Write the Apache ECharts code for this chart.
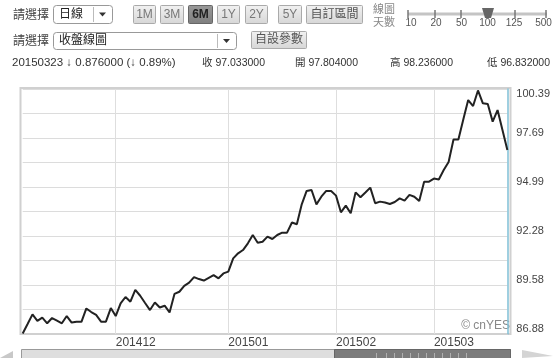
<!DOCTYPE html>
<html><head><meta charset="utf-8">
<script src="https://cdn.jsdelivr.net/npm/echarts@6/dist/echarts.min.js"></script>
<style>html,body{margin:0;padding:0;background:#fff}#c{width:553px;height:358px}</style>
</head><body><div id="c"></div>
<script>
// ---- data ----
const startDate = '2014-11-04';
const endDate = '2015-03-23';
const closeValues = [
  86.91, 87.43, 87.96, 87.60, 87.78, 87.47, 87.76, 87.62, 87.47, 87.87,
  87.51, 87.56, 87.55, 88.29, 88.09, 87.93, 87.56, 87.56, 88.31, 87.87,
  88.57, 88.92, 88.66, 89.31, 88.99, 88.59, 88.20, 88.62, 88.34, 88.44,
  88.07, 89.09, 89.21, 89.53, 89.71, 90.02, 89.91, 89.83, 89.98, 90.13,
  89.95, 90.22, 90.32, 91.05, 91.33, 91.51, 91.88, 92.34, 91.91, 91.97,
  92.25, 92.12, 92.34, 92.47, 92.47, 93.03, 92.93, 94.03, 94.77, 94.82,
  94.03, 94.45, 94.77, 94.77, 94.51, 93.59, 93.96, 93.54, 94.69, 94.42,
  94.68, 94.95, 94.09, 94.18, 94.13, 94.05, 94.16, 94.36, 94.23, 94.55,
  94.45, 94.21, 95.28, 95.28, 95.45, 95.40, 95.92, 96.36, 97.61, 97.61,
  98.71, 99.78, 99.45, 100.31, 99.60, 99.56, 98.59, 99.23, 98.13, 97.03
];
const yTickLabels = ['86.88', '89.58', '92.28', '94.99', '97.69', '100.39'];
const Y_MIN = 86.88, Y_MAX = 100.39, Y_STEP = 1.351;
const rangeButtons = ['1M', '3M', '6M', '1Y', '2Y', '5Y'];
const dayTicks = ['10', '20', '50', '100', '125', '500'];
const infoTexts = ['20150323 ↓ 0.876000 (↓ 0.89%)', '收 97.033000', '開 97.804000', '高 98.236000', '低 96.832000'];

// weekday categories (YYYYMMDD)
const categories = [];
(function () {
  const d = new Date(startDate + 'T00:00:00Z');
  const e = new Date(endDate + 'T00:00:00Z');
  while (d <= e) {
    const wd = d.getUTCDay();
    if (wd !== 0 && wd !== 6) {
      const y = d.getUTCFullYear(), m = d.getUTCMonth() + 1, dd = d.getUTCDate();
      categories.push('' + y + (m < 10 ? '0' : '') + m + (dd < 10 ? '0' : '') + dd);
    }
    d.setUTCDate(d.getUTCDate() + 1);
  }
})();
const isMonthStart = (i) => i > 0 && categories[i].slice(4, 6) !== categories[i - 1].slice(4, 6);

// ---- UI graphics ----
const FONT = '"Liberation Sans", "Noto Sans CJK TC", sans-serif';
const g = [];
function txt(x, y, t, size, color, opts) {
  g.push({ type: 'text', x: x, y: y, silent: true,
    style: Object.assign({ text: t, fill: color, font: size + 'px ' + FONT, verticalAlign: 'middle', align: 'left' }, (opts || {})) });
}
function rect(x, y, w, h, fill, stroke, r) {
  g.push({ type: 'rect', shape: { x: x, y: y, width: w, height: h, r: r || 0 }, silent: true,
    style: { fill: fill, stroke: stroke, lineWidth: 1 } });
}
function grad(c1, c2) {
  return { type: 'linear', x: 0, y: 0, x2: 0, y2: 1, colorStops: [{ offset: 0, color: c1 }, { offset: 1, color: c2 }] };
}
function tri(pts, fill) {
  g.push({ type: 'polygon', shape: { points: pts }, silent: true, style: { fill: fill } });
}
// row 1
txt(13, 15.5, '請選擇', 12, '#444');
rect(53.5, 5.5, 59, 18, '#fff', '#999', 3);
txt(59, 14.5, '日線', 12, '#222');
g.push({ type: 'line', shape: { x1: 93.5, y1: 7, x2: 93.5, y2: 22 }, silent: true, style: { stroke: '#bbb' } });
tri([[99, 12.5], [106, 12.5], [102.5, 16.5]], '#333');
const btnX = [[133, 22], [160, 23], [188, 24], [217, 22], [245, 22], [278, 23]];
rangeButtons.forEach((b, i) => {
  const on = b === '6M';
  rect(btnX[i][0] + 0.5, 5.5, btnX[i][1], 18, on ? grad('#9a9a9a', '#7e7e7e') : grad('#f2f2f2', '#d6d6d6'), on ? '#666' : '#aaa', 1);
  txt(btnX[i][0] + 0.5 + btnX[i][1] / 2, 14.5, b, 12, on ? '#222' : '#777', { align: 'center', fontWeight: on ? 'bold' : 'normal' });
});
rect(306.5, 5.5, 56, 18, grad('#f2f2f2', '#d6d6d6'), '#aaa', 1);
txt(334.5, 14.5, '自訂區間', 12, '#555', { align: 'center' });
txt(373, 10, '線圖', 11, '#888');
txt(373, 23, '天數', 11, '#888');
g.push({ type: 'line', shape: { x1: 408, y1: 14, x2: 547, y2: 14 }, silent: true, style: { stroke: '#c4c4c4', lineWidth: 3 } });
const tickX = [408, 435, 461, 488, 515, 546];
const tickLabelX = [411, 436, 461.5, 487.5, 514, 543.5];
dayTicks.forEach((t, i) => {
  g.push({ type: 'line', shape: { x1: tickX[i], y1: 10, x2: tickX[i], y2: 18 }, silent: true, style: { stroke: '#777', lineWidth: 1.5 } });
  txt(tickLabelX[i], 23, t, 10, '#555', { align: 'center' });
});
tri([[482, 8], [494, 8], [491, 18], [485, 18]], '#666');
// row 2
txt(13, 42, '請選擇', 12, '#444');
rect(53.5, 32.5, 183, 17, '#fff', '#999', 3);
txt(59, 41, '收盤線圖', 12, '#222');
g.push({ type: 'line', shape: { x1: 217.5, y1: 34, x2: 217.5, y2: 48 }, silent: true, style: { stroke: '#bbb' } });
tri([[223, 39], [230, 39], [226.5, 43]], '#333');
rect(251.5, 31.5, 55, 17, grad('#f2f2f2', '#d6d6d6'), '#aaa', 1);
txt(279, 40, '自設參數', 12, '#555', { align: 'center' });
// row 3
const infoX = [12, 202, 295, 390, 487];
infoTexts.forEach((t, i) => txt(infoX[i], 63, t, i === 0 ? 11.5 : 10.5, '#333'));
// chart frame
g.push({ type: 'rect', shape: { x: 20.5, y: 88, width: 490, height: 246 }, silent: true, z: 0,
  style: { fill: 'none', stroke: '#d0d0d0', lineWidth: 2 } });
txt(510, 326, '© cnYES', 12, '#888', { align: 'right' });
// bottom scroller
tri([[0, 358], [13, 351], [13, 358]], '#c8c8c8');
tri([[522, 350], [553, 356], [522, 358]], '#d4d4d4');
rect(21.5, 349.5, 489, 12, '#dedede', '#999', 0);
rect(334.5, 349.5, 176, 12, '#7c7c7c', '#666', 0);
[376, 386, 394, 402, 410, 418, 426, 434, 442, 450, 458, 466].forEach(x => {
  g.push({ type: 'line', shape: { x1: x + 0.5, y1: 353, x2: x + 0.5, y2: 358 }, silent: true, style: { stroke: '#b0b0b0' } });
});

const chart = echarts.init(document.getElementById('c'), null, { renderer: 'canvas' });
chart.setOption({
  animation: false,
  backgroundColor: '#fff',
  textStyle: { fontFamily: FONT },
  grid: { left: 22.7, right: 42.3, top: 89, bottom: 24, containLabel: false },
  xAxis: {
    type: 'category', data: categories, boundaryGap: false,
    axisLine: { show: true, lineStyle: { color: '#d0d0d0', width: 1 } },
    axisTick: { show: false },
    splitLine: { show: true, interval: (i) => isMonthStart(i), lineStyle: { color: '#dedede', width: 1 } },
    axisLabel: { interval: (i) => isMonthStart(i), formatter: (v) => v.slice(0, 6), align: 'left',
      margin: 3, fontSize: 12, color: '#444', fontFamily: FONT }
  },
  yAxis: {
    type: 'value', position: 'right', min: Y_MIN, max: Y_MAX, interval: Y_STEP,
    axisLine: { show: true, lineStyle: { color: '#7fbfd6', width: 1.5 } },
    axisTick: { show: false },
    splitLine: { show: true, lineStyle: { color: '#dcdcdc', width: 1 } },
    axisLabel: {
      margin: 9, fontSize: 11, color: '#444', fontFamily: FONT, verticalAlign: 'bottom', lineHeight: 10,
      verticalAlignMaxLabel: 'top',
      formatter: (v) => { const k = Math.round((v - Y_MIN) / Y_STEP); return k % 2 === 0 ? yTickLabels[k / 2] : ''; }
    }
  },
  series: [{
    type: 'line', data: closeValues, showSymbol: false, symbol: 'none',
    lineStyle: { color: '#222', width: 2 }, z: 5
  }],
  graphic: g
});
</script>
</body></html>
